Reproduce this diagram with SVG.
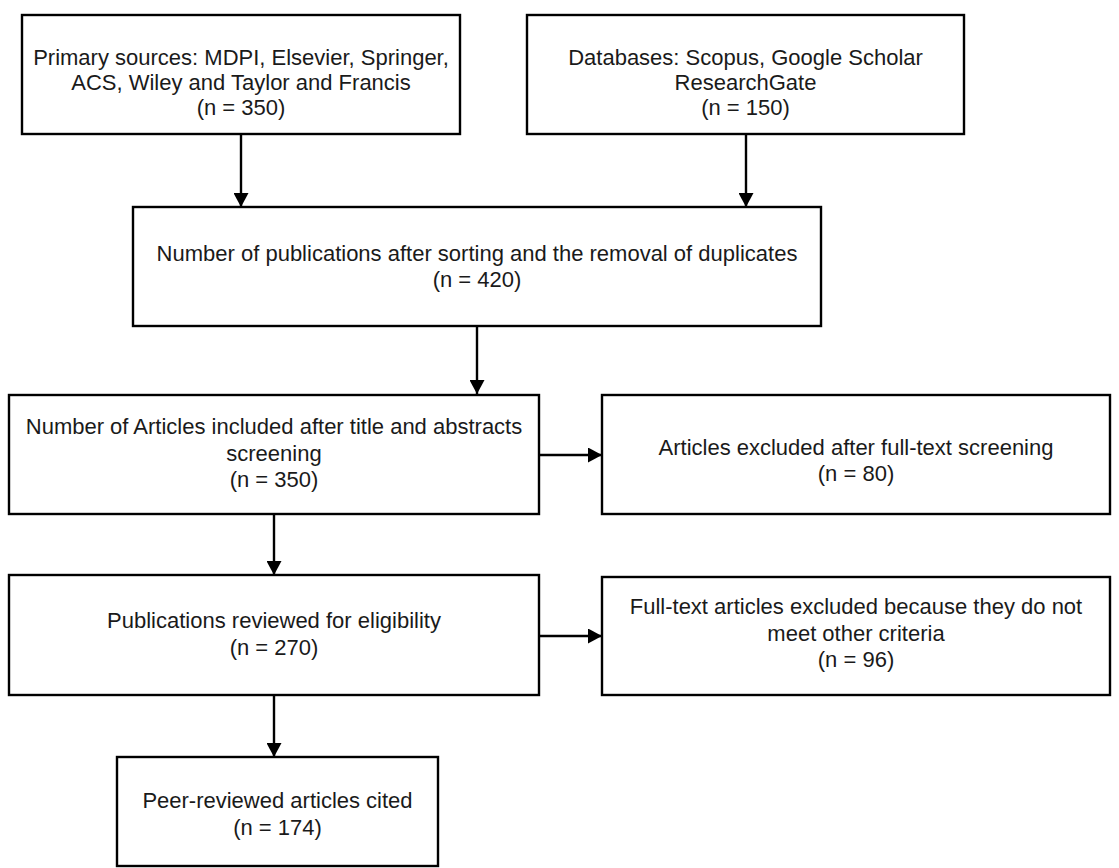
<svg xmlns="http://www.w3.org/2000/svg" width="1119" height="868" viewBox="0 0 1119 868">
<style>
.box{fill:#fff;stroke:#000;stroke-width:2.4}
.t{font-family:"Liberation Sans",Arial,sans-serif;font-size:22px;fill:#1a1a1a;text-anchor:middle}
.c{stroke:#000;stroke-width:2.4;fill:none}
</style>
<defs>
<marker id="ah" viewBox="0 0 14 15" refX="14" refY="7.5" markerWidth="14" markerHeight="15" markerUnits="userSpaceOnUse" orient="auto">
<path d="M0,0 L14,7.5 L0,15 z" fill="#000"/>
</marker>
</defs>
<rect width="1119" height="868" fill="#fff"/>
<g id="connectors">
<line class="c" x1="241" y1="134" x2="241" y2="207" marker-end="url(#ah)"/>
<line class="c" x1="746" y1="134" x2="746" y2="207" marker-end="url(#ah)"/>
<line class="c" x1="477" y1="326" x2="477" y2="394" marker-end="url(#ah)"/>
<line class="c" x1="539" y1="455" x2="602" y2="455" marker-end="url(#ah)"/>
<line class="c" x1="274" y1="514" x2="274" y2="575" marker-end="url(#ah)"/>
<line class="c" x1="539" y1="636" x2="602" y2="636" marker-end="url(#ah)"/>
<line class="c" x1="274" y1="695" x2="274" y2="757" marker-end="url(#ah)"/>
</g>
<g id="n1">
<rect class="box" x="22" y="15" width="438" height="119"/>
<text class="t" x="241" y="65">Primary sources: MDPI, Elsevier, Springer,</text>
<text class="t" x="241" y="90">ACS, Wiley and Taylor and Francis</text>
<text class="t" x="241" y="115">(n = 350)</text>
</g>
<g id="n2">
<rect class="box" x="527" y="15" width="437" height="119"/>
<text class="t" x="745.5" y="65">Databases: Scopus, Google Scholar</text>
<text class="t" x="745.5" y="90">ResearchGate</text>
<text class="t" x="745.5" y="115">(n = 150)</text>
</g>
<g id="n3">
<rect class="box" x="133" y="207" width="688" height="119"/>
<text class="t" x="477" y="261">Number of publications after sorting and the removal of duplicates</text>
<text class="t" x="477" y="287">(n = 420)</text>
</g>
<g id="n4">
<rect class="box" x="9" y="395" width="530" height="119"/>
<text class="t" x="274" y="434">Number of Articles included after title and abstracts</text>
<text class="t" x="274" y="461">screening</text>
<text class="t" x="274" y="487">(n = 350)</text>
</g>
<g id="n5">
<rect class="box" x="602" y="395" width="508" height="119"/>
<text class="t" x="856" y="455">Articles excluded after full-text screening</text>
<text class="t" x="856" y="481">(n = 80)</text>
</g>
<g id="n6">
<rect class="box" x="9" y="575" width="530" height="120"/>
<text class="t" x="274" y="628">Publications reviewed for eligibility</text>
<text class="t" x="274" y="655">(n = 270)</text>
</g>
<g id="n7">
<rect class="box" x="602" y="577" width="508" height="118"/>
<text class="t" x="856" y="614">Full-text articles excluded because they do not</text>
<text class="t" x="856" y="641">meet other criteria</text>
<text class="t" x="856" y="667">(n = 96)</text>
</g>
<g id="n8">
<rect class="box" x="117" y="757" width="321" height="109"/>
<text class="t" x="277.5" y="808">Peer-reviewed articles cited</text>
<text class="t" x="277.5" y="835">(n = 174)</text>
</g>
</svg>
